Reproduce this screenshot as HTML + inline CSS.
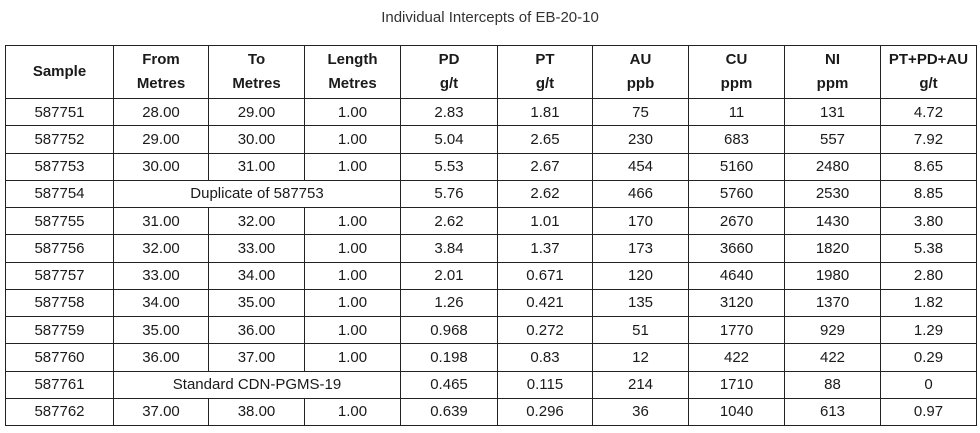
<!DOCTYPE html>
<html><head><style>
body{margin:0;background:#fff;width:980px;height:433px;overflow:hidden;font-family:"Liberation Sans",sans-serif;color:#1a1a1a}
.t{position:absolute;top:9px;left:0;width:980px;text-align:center;font-size:15px;color:#333}
table{position:absolute;left:5px;top:45px;border-collapse:collapse;table-layout:fixed}
td{border:1.5px solid #222;text-align:center;font-size:15px;height:27.25px;padding:0;box-sizing:border-box}
tr.h td{height:53px;font-weight:bold;line-height:24px}
</style></head><body>
<div class="t">Individual Intercepts of EB-20-10</div>
<table>
<colgroup><col style="width:108px"><col style="width:95px"><col style="width:96px"><col style="width:96px"><col style="width:97px"><col style="width:95px"><col style="width:96px"><col style="width:96px"><col style="width:96px"><col style="width:96px"></colgroup>
<tr class="h"><td>Sample</td><td>From<br>Metres</td><td>To<br>Metres</td><td>Length<br>Metres</td><td>PD<br>g/t</td><td>PT<br>g/t</td><td>AU<br>ppb</td><td>CU<br>ppm</td><td>NI<br>ppm</td><td>PT+PD+AU<br>g/t</td></tr>
<tr><td>587751</td><td>28.00</td><td>29.00</td><td>1.00</td><td>2.83</td><td>1.81</td><td>75</td><td>11</td><td>131</td><td>4.72</td></tr>
<tr><td>587752</td><td>29.00</td><td>30.00</td><td>1.00</td><td>5.04</td><td>2.65</td><td>230</td><td>683</td><td>557</td><td>7.92</td></tr>
<tr><td>587753</td><td>30.00</td><td>31.00</td><td>1.00</td><td>5.53</td><td>2.67</td><td>454</td><td>5160</td><td>2480</td><td>8.65</td></tr>
<tr><td>587754</td><td colspan="3">Duplicate of 587753</td><td>5.76</td><td>2.62</td><td>466</td><td>5760</td><td>2530</td><td>8.85</td></tr>
<tr><td>587755</td><td>31.00</td><td>32.00</td><td>1.00</td><td>2.62</td><td>1.01</td><td>170</td><td>2670</td><td>1430</td><td>3.80</td></tr>
<tr><td>587756</td><td>32.00</td><td>33.00</td><td>1.00</td><td>3.84</td><td>1.37</td><td>173</td><td>3660</td><td>1820</td><td>5.38</td></tr>
<tr><td>587757</td><td>33.00</td><td>34.00</td><td>1.00</td><td>2.01</td><td>0.671</td><td>120</td><td>4640</td><td>1980</td><td>2.80</td></tr>
<tr><td>587758</td><td>34.00</td><td>35.00</td><td>1.00</td><td>1.26</td><td>0.421</td><td>135</td><td>3120</td><td>1370</td><td>1.82</td></tr>
<tr><td>587759</td><td>35.00</td><td>36.00</td><td>1.00</td><td>0.968</td><td>0.272</td><td>51</td><td>1770</td><td>929</td><td>1.29</td></tr>
<tr><td>587760</td><td>36.00</td><td>37.00</td><td>1.00</td><td>0.198</td><td>0.83</td><td>12</td><td>422</td><td>422</td><td>0.29</td></tr>
<tr><td>587761</td><td colspan="3">Standard CDN-PGMS-19</td><td>0.465</td><td>0.115</td><td>214</td><td>1710</td><td>88</td><td>0</td></tr>
<tr><td>587762</td><td>37.00</td><td>38.00</td><td>1.00</td><td>0.639</td><td>0.296</td><td>36</td><td>1040</td><td>613</td><td>0.97</td></tr>
</table>
</body></html>
